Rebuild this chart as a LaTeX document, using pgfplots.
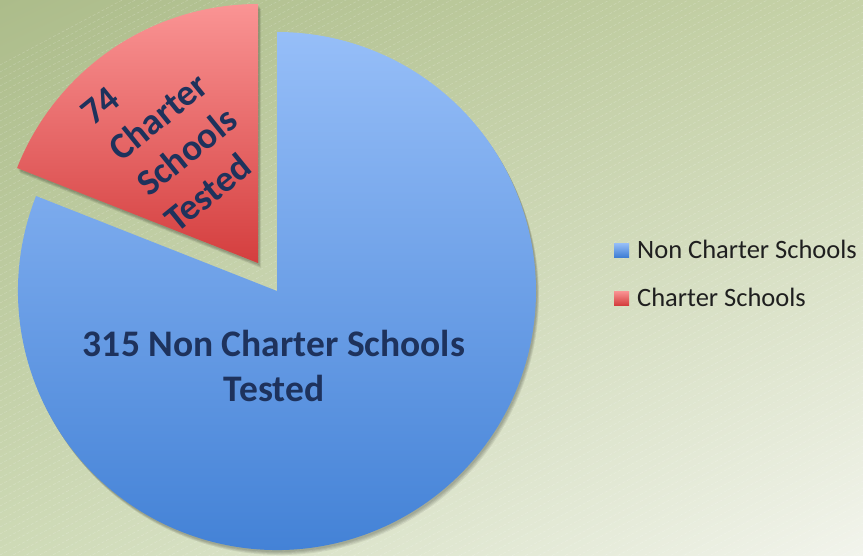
\documentclass[border=0pt]{standalone}
\usepackage{fontspec}
\setmainfont{Carlito}
\usepackage{pgfplots}
\pgfplotsset{compat=1.18}
\usetikzlibrary{shadings,calc}
\definecolor{labnavy}{RGB}{30,50,92}
\definecolor{blueTop}{RGB}{150,190,248}
\definecolor{blueBot}{RGB}{62,126,212}
\definecolor{redTop}{RGB}{250,148,148}
\definecolor{redBot}{RGB}{212,62,62}
\definecolor{bgUL}{RGB}{172,188,138}
\definecolor{bgUR}{RGB}{198,210,168}
\definecolor{bgLL}{RGB}{206,218,182}
\definecolor{bgLR}{RGB}{242,244,236}
\begin{document}
\begin{tikzpicture}
\useasboundingbox (0,0) rectangle (863pt,555pt);
% slide background
\shade[upper left=bgUL, upper right=bgUR, lower left=bgLL, lower right=bgLR]
  (0,0) rectangle (863pt,555pt);
\begin{scope}
\clip (0,0) rectangle (863pt,555pt);
\foreach \k in {-90,...,70}
  \draw[white, opacity=0.22, line width=0.5pt, dash pattern=on 3pt off 2pt]
    (0pt,\k*7pt) -- ++(28:1100pt);
\end{scope}

\pgfmathsetmacro\nonch{315}
\pgfmathsetmacro\charter{74}
\pgfmathsetmacro\angR{360/(\nonch+\charter)*\charter}

\begin{axis}[
    at={(0,0)}, anchor=south west,
    scale only axis, width=863pt, height=555pt,
    xmin=0, xmax=863, ymin=0, ymax=555,
    hide axis, clip=false,
    legend style={draw=none, fill=none, at={(axis cs:614,317)}, anchor=north west,
      font=\fontsize{26.5}{31}\selectfont, text=black!88, row sep=24pt,
      inner sep=0pt, cells={anchor=west},
      /tikz/every odd column/.append style={column sep=6pt}},
    legend image code/.code={\path[#1] (0pt,-7pt) rectangle (15pt,7pt);},
]
\addlegendimage{top color=blueTop, bottom color=blueBot, draw=none}
\addlegendentry{Non Charter Schools}
\addlegendimage{top color=redTop, bottom color=redBot, draw=none}
\addlegendentry{Charter Schools}

% soft shadows
\pgfplotsinvokeforeach{2,3,4,5}{
  \fill[black, opacity=0.07] ($(axis cs:277,264)+(#1*0.6pt,-#1 pt)$) -- ++(\angR+90:259pt)
       arc[start angle=\angR+90, end angle=450, radius=259pt] -- cycle;
  \fill[black, opacity=0.07] ($(axis cs:258,292)+(#1*0.6pt,-#1 pt)$) -- ++(90:259pt)
       arc[start angle=90, end angle=\angR+90, radius=259pt] -- cycle;
}
% Non charter slice
\shade[top color=blueTop, bottom color=blueBot] (axis cs:277,264) -- ++(\angR+90:259pt)
   arc[start angle=\angR+90, end angle=450, radius=259pt] -- cycle;
% Charter slice (exploded)
\shade[top color=redTop, bottom color=redBot] (axis cs:258,292) -- ++(90:259pt)
   arc[start angle=90, end angle=\angR+90, radius=259pt] -- cycle;

% labels
\node[font=\fontsize{37.5}{45}\bfseries, text=labnavy, anchor=base, inner sep=0pt]
  at (axis cs:274,198) {315 Non Charter Schools};
\node[font=\fontsize{37.5}{45}\bfseries, text=labnavy, anchor=base, inner sep=0pt]
  at (axis cs:274,153) {Tested};
\node[font=\fontsize{37}{45}\bfseries, text=labnavy, anchor=base west, inner sep=0pt, rotate=39]
  at (axis cs:93,428) {74};
\node[font=\fontsize{37}{45}\bfseries, text=labnavy, anchor=base west, inner sep=0pt, rotate=39]
  at (axis cs:121,392.5) {Charter};
\node[font=\fontsize{37}{45}\bfseries, text=labnavy, anchor=base west, inner sep=0pt, rotate=39]
  at (axis cs:149,357) {Schools};
\node[font=\fontsize{37}{45}\bfseries, text=labnavy, anchor=base west, inner sep=0pt, rotate=39]
  at (axis cs:177,321.5) {Tested};
\end{axis}
\end{tikzpicture}
\end{document}
